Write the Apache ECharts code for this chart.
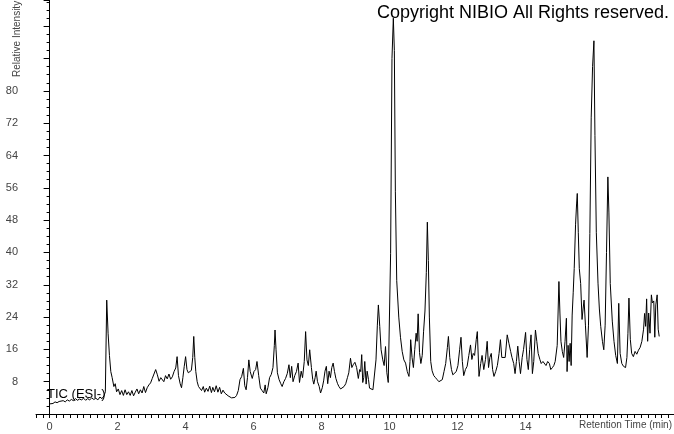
<!DOCTYPE html>
<html>
<head>
<meta charset="utf-8">
<style>
html, body { margin:0; padding:0; background:#fff; }
#chart { width:674px; height:434px; }
</style>
<script src="https://cdn.jsdelivr.net/npm/echarts@6/dist/echarts.min.js"></script>
</head>
<body>
<div id="chart"></div>
<script>
// retention time (min) and relative intensity
const retentionTimes = [
  0.00, 0.05, 0.10, 0.16, 0.22, 0.28, 0.33, 0.40, 0.46, 0.52, 0.58, 0.64, 0.70, 0.76, 0.82, 0.88, 0.94,
  1.00, 1.06, 1.12, 1.18, 1.24, 1.30, 1.36, 1.42, 1.48, 1.54, 1.60, 1.64, 1.68, 1.72, 1.76, 1.80, 1.84, 1.89, 1.93, 1.97,
  2.02, 2.07, 2.12, 2.17, 2.22, 2.27, 2.32, 2.37, 2.42, 2.47, 2.52, 2.57, 2.62, 2.67, 2.72, 2.77, 2.82, 2.87, 2.92, 2.97,
  3.02, 3.07, 3.12, 3.17, 3.22, 3.27, 3.31, 3.36, 3.41, 3.46, 3.51, 3.56, 3.61, 3.66, 3.71, 3.75, 3.79, 3.84, 3.88, 3.92, 3.96,
  4.00, 4.04, 4.08, 4.13, 4.17, 4.21, 4.24, 4.27, 4.30, 4.34, 4.38, 4.42, 4.47, 4.52, 4.56, 4.61, 4.66, 4.71, 4.76, 4.80, 4.85, 4.90, 4.95,
  5.00, 5.05, 5.10, 5.15, 5.20, 5.25, 5.30, 5.35, 5.40, 5.45, 5.50, 5.55, 5.60, 5.65, 5.70, 5.74, 5.78, 5.82, 5.86, 5.90, 5.96,
  6.01, 6.06, 6.10, 6.15, 6.20, 6.25, 6.30, 6.34, 6.37, 6.42, 6.47, 6.52, 6.57, 6.61, 6.63, 6.66, 6.70, 6.75, 6.80, 6.84, 6.89, 6.94, 6.99,
  7.04, 7.08, 7.12, 7.16, 7.21, 7.26, 7.31, 7.35, 7.40, 7.44, 7.49, 7.53, 7.57, 7.61, 7.65, 7.70, 7.74, 7.77, 7.81, 7.84, 7.88, 7.93, 7.97,
  8.02, 8.06, 8.10, 8.14, 8.18, 8.22, 8.26, 8.30, 8.34, 8.38, 8.42, 8.47, 8.51, 8.56, 8.61, 8.66, 8.71, 8.76, 8.80, 8.85, 8.89, 8.93, 8.98,
  9.03, 9.08, 9.12, 9.15, 9.18, 9.21, 9.24, 9.27, 9.31, 9.34, 9.38, 9.41, 9.46, 9.51, 9.56, 9.60, 9.64, 9.67, 9.71, 9.75, 9.80, 9.84, 9.88, 9.92, 9.96,
  10.00, 10.03, 10.07, 10.11, 10.14, 10.17, 10.21, 10.27, 10.32, 10.37, 10.42, 10.47, 10.52, 10.57, 10.60, 10.62, 10.66, 10.70, 10.74, 10.78, 10.81, 10.84, 10.88, 10.92, 10.96,
  11.00, 11.04, 11.08, 11.11, 11.14, 11.17, 11.21, 11.25, 11.30, 11.35, 11.40, 11.45, 11.50, 11.55, 11.60, 11.65, 11.70, 11.73, 11.77, 11.82, 11.86, 11.91, 11.96,
  12.01, 12.06, 12.10, 12.14, 12.18, 12.23, 12.28, 12.33, 12.38, 12.42, 12.46, 12.50, 12.55, 12.58, 12.63, 12.68, 12.72, 12.77, 12.82, 12.87, 12.91, 12.95, 12.99,
  13.03, 13.07, 13.12, 13.17, 13.22, 13.26, 13.30, 13.35, 13.40, 13.46, 13.51, 13.56, 13.60, 13.65, 13.69, 13.73, 13.77, 13.81, 13.85, 13.90, 13.94,
  14.00, 14.04, 14.08, 14.12, 14.16, 14.20, 14.24, 14.29, 14.33, 14.37, 14.42, 14.46, 14.51, 14.55, 14.60, 14.65, 14.70, 14.74, 14.79, 14.83, 14.87, 14.93, 14.98,
  15.01, 15.04, 15.08, 15.12, 15.16, 15.20, 15.22, 15.25, 15.28, 15.31, 15.34, 15.37, 15.40, 15.43, 15.47, 15.50, 15.52, 15.55, 15.58, 15.62, 15.66, 15.69, 15.72, 15.76, 15.81, 15.85, 15.89, 15.93, 15.97,
  16.01, 16.04, 16.08, 16.13, 16.17, 16.21, 16.26, 16.30, 16.34, 16.38, 16.42, 16.45, 16.49, 16.55, 16.60, 16.65, 16.70, 16.74, 16.78, 16.83, 16.88, 16.94, 16.98,
  17.01, 17.04, 17.08, 17.12, 17.17, 17.22, 17.27, 17.32, 17.37, 17.42, 17.47, 17.50, 17.53, 17.56, 17.59, 17.62, 17.66, 17.70, 17.73, 17.77, 17.80, 17.83, 17.87, 17.90, 17.93
];

const intensities = [
  2.5, 2.8, 2.6, 3.0, 2.8, 3.1, 2.9, 3.3, 3.0, 3.5, 3.2, 3.6, 3.3, 3.8, 3.4, 3.7, 3.5,
  3.9, 3.4, 3.8, 3.5, 4.0, 3.6, 3.9, 3.5, 4.2, 3.8, 4.5, 5.5, 28.2, 20.0, 14.5, 10.5, 9.0, 6.8, 7.5, 5.5,
  6.2, 4.8, 5.8, 4.6, 6.0, 4.8, 5.5, 4.6, 5.8, 4.5, 5.4, 6.2, 5.0, 6.0, 5.2, 6.8, 5.3, 6.5, 7.2, 7.7,
  8.8, 8.5, 11.0, 9.7, 8.1, 9.0, 9.3, 8.0, 9.5, 8.7, 9.9, 8.6, 9.2, 10.5, 11.4, 14.2, 9.5, 7.5, 6.5, 9.0, 11.8,
  14.2, 11.0, 10.2, 10.0, 10.8, 14.0, 19.2, 14.0, 10.5, 8.0, 6.8, 7.2, 5.8, 6.8, 5.4, 6.4, 5.6, 6.9, 5.3, 6.6, 5.5, 7.0, 5.4,
  6.6, 5.0, 5.9, 5.2, 5.6, 4.5, 4.2, 4.0, 4.3, 4.1, 4.6, 5.8, 8.5, 9.3, 11.3, 7.0, 6.0, 9.0, 13.4, 10.5, 8.8,
  10.5, 11.0, 13.0, 9.5, 6.4, 5.8, 5.2, 7.2, 5.0, 6.5, 9.0, 9.8, 11.5, 17.0, 20.8, 15.9, 10.2, 8.5, 7.5, 6.8, 8.0, 8.8, 10.0,
  12.2, 9.0, 11.8, 8.0, 9.5, 10.5, 12.6, 7.8, 10.6, 9.0, 13.0, 20.4, 13.4, 12.0, 15.9, 11.5, 8.5, 7.4, 9.0, 10.6, 8.0, 6.8, 5.2,
  6.5, 8.2, 10.6, 11.8, 7.5, 10.6, 9.0, 11.5, 12.6, 10.5, 8.8, 7.5, 6.8, 6.2, 6.0, 6.8, 7.5, 9.0, 10.2, 13.8, 11.5, 12.2, 12.8,
  11.5, 8.8, 11.0, 10.5, 14.7, 7.8, 9.0, 13.0, 7.4, 10.6, 8.5, 6.4, 6.5, 6.0, 6.3, 13.4, 22.0, 27.0, 21.7, 15.9, 13.4, 12.0, 16.7, 10.2, 7.8,
  8.0, 39.8, 88.0, 98.0, 90.0, 55.0, 33.0, 24.0, 19.0, 15.5, 13.4, 12.6, 10.5, 9.3, 13.0, 18.4, 14.0, 11.5, 16.0, 20.0, 18.0, 24.8, 15.2, 12.5, 14.5,
  20.5, 25.5, 35.0, 47.5, 38.0, 24.0, 13.0, 10.7, 9.5, 9.0, 8.5, 8.0, 7.7, 8.5, 10.5, 12.5, 16.5, 19.2, 14.0, 11.0, 9.7, 9.5, 10.5,
  12.0, 15.9, 19.0, 13.0, 9.5, 11.0, 11.8, 14.5, 17.1, 13.5, 15.0, 14.5, 18.5, 20.4, 9.3, 12.5, 14.5, 11.0, 13.5, 18.0, 11.5, 14.0, 15.0,
  11.0, 9.3, 10.5, 12.0, 15.0, 18.4, 14.0, 14.2, 14.0, 19.6, 17.5, 15.5, 14.0, 12.5, 10.0, 13.0, 16.8, 13.0, 10.0, 14.0, 16.0,
  20.2, 13.5, 11.0, 16.0, 19.6, 10.0, 13.0, 20.8, 18.0, 15.0, 13.5, 12.5, 13.0, 12.8, 12.0, 13.0, 12.5, 11.0, 11.5, 12.0, 13.0, 17.0, 32.8,
  25.0, 18.0, 15.5, 14.0, 18.0, 23.7, 10.5, 17.0, 13.0, 17.5, 12.0, 24.5, 30.0, 36.0, 47.0, 52.0, 54.6, 45.0, 36.0, 32.3, 23.4, 26.0, 28.2, 22.0, 14.0, 22.0, 44.7, 73.5, 86.0,
  92.4, 69.0, 45.0, 32.4, 26.0, 21.7, 18.0, 15.9, 22.0, 40.0, 58.7, 50.0, 32.3, 23.0, 18.0, 14.5, 12.5, 27.4, 15.0, 12.5, 11.8, 11.5, 14.0,
  20.0, 28.7, 18.5, 15.0, 14.2, 15.5, 14.8, 15.8, 16.5, 18.0, 21.0, 24.9, 21.7, 28.5, 18.0, 25.0, 20.0, 29.5, 27.5, 28.0, 19.0, 27.0, 29.5, 21.0, 19.2
];

const timeLabels = [0, 2, 4, 6, 8, 10, 12, 14];
const intensityLabels = [8, 16, 24, 32, 40, 48, 56, 64, 72, 80];

const labelFont = 'Liberation Sans, Arial, sans-serif';

const chart = echarts.init(document.getElementById('chart'));

const option = {
  animation: false,
  grid: {
    left: 36,
    right: 0,
    top: 0,
    bottom: 20,
    containLabel: false,
    outerBoundsMode: 'none'
  },
  xAxis: {
    type: 'value',
    min: -0.4,
    max: 18.365,
    interval: 0.2,
    axisLine: { lineStyle: { color: '#000', width: 1 } },
    axisTick: { length: 4, lineStyle: { color: '#000' } },
    splitLine: { show: false },
    axisLabel: {
      margin: 7,
      color: '#444',
      fontSize: 11,
      fontFamily: labelFont,
      showMinLabel: true,
      showMaxLabel: true,
      formatter: function (v) {
        const r = Math.round(v);
        return (Math.abs(v - r) < 1e-6 && timeLabels.indexOf(r) >= 0) ? String(r) : '';
      }
    }
  },
  yAxis: {
    type: 'value',
    min: 0,
    max: 102.5,
    interval: 8,
    axisLine: { show: true, lineStyle: { color: '#000', width: 1 } },
    axisTick: { show: true, length: 6, lineStyle: { color: '#000' } },
    minorTick: { show: true, splitNumber: 4, length: 3, lineStyle: { color: '#000' } },
    splitLine: { show: false },
    axisLabel: {
      margin: 18,
      color: '#444',
      fontSize: 11,
      fontFamily: labelFont,
      formatter: function (v) {
        return intensityLabels.indexOf(v) >= 0 ? String(v) : '';
      }
    }
  },
  graphic: [
    {
      type: 'text',
      x: 17,
      y: 77,
      rotation: Math.PI / 2,
      style: {
        text: 'Relative Intensity',
        font: '10px ' + labelFont,
        fill: '#444',
        textAlign: 'left',
        textVerticalAlign: 'middle'
      }
    },
    {
      type: 'text',
      x: 672,
      y: 425,
      style: {
        text: 'Retention Time (min)',
        font: '10px ' + labelFont,
        fill: '#444',
        textAlign: 'right',
        textVerticalAlign: 'middle'
      }
    },
    {
      type: 'text',
      x: 377,
      y: 13,
      style: {
        text: 'Copyright NIBIO All Rights reserved.',
        font: '18px ' + labelFont,
        fill: '#000',
        textAlign: 'left',
        textVerticalAlign: 'middle'
      }
    },
    {
      type: 'text',
      x: 47,
      y: 394,
      style: {
        text: 'TIC (ESI-)',
        font: '13px ' + labelFont,
        fill: '#000',
        textAlign: 'left',
        textVerticalAlign: 'middle'
      }
    }
  ],
  series: [
    {
      type: 'line',
      data: retentionTimes.map((t, i) => [t, intensities[i]]),
      symbol: 'none',
      lineStyle: { color: '#000', width: 1 },
      z: 3
    }
  ]
};

chart.setOption(option);
</script>
</body>
</html>
